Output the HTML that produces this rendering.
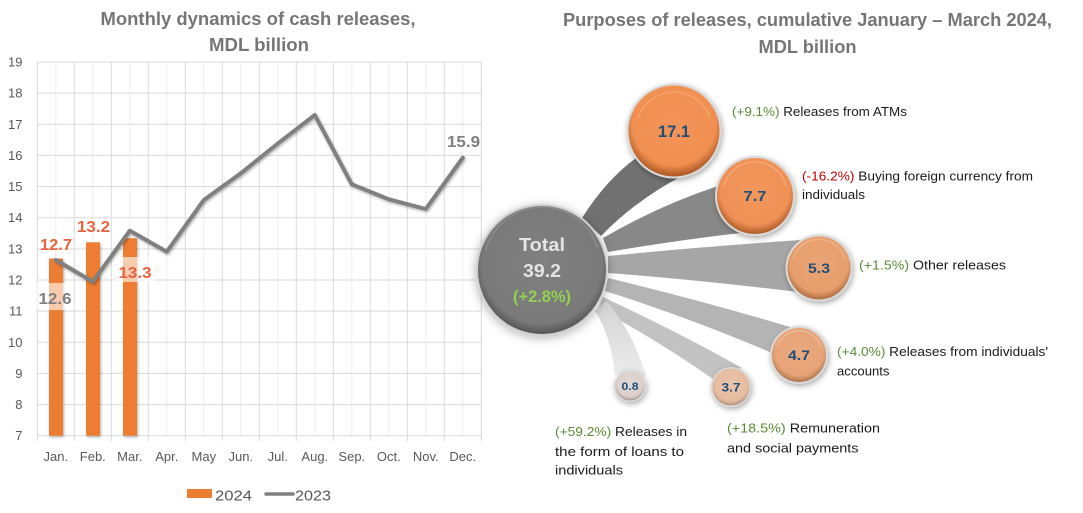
<!DOCTYPE html>
<html>
<head>
<meta charset="utf-8">
<style>
  html,body{margin:0;padding:0;background:#fff;}
  svg{display:block;}
  text{font-family:"Liberation Sans",Arial,sans-serif;}
</style>
</head>
<body>
<svg width="1083" height="513" viewBox="0 0 1083 513" xmlns="http://www.w3.org/2000/svg">
  <defs>
    <filter id="sh" x="-30%" y="-30%" width="160%" height="160%">
      <feDropShadow dx="1" dy="2" stdDeviation="3" flood-color="#000" flood-opacity="0.35"/>
    </filter>
    <filter id="shbig" x="-30%" y="-30%" width="160%" height="160%">
      <feDropShadow dx="0" dy="2" stdDeviation="5" flood-color="#000" flood-opacity="0.3"/>
    </filter>
    <filter id="lsh" x="-10%" y="-10%" width="120%" height="120%">
      <feDropShadow dx="1" dy="1.5" stdDeviation="1.2" flood-color="#000" flood-opacity="0.3"/>
    </filter>
    <radialGradient id="gTot" cx="50%" cy="45%" r="55%">
      <stop offset="0" stop-color="#808080"/>
      <stop offset="0.85" stop-color="#7a7a7a"/>
      <stop offset="1" stop-color="#555"/>
    </radialGradient>
    <radialGradient id="gO1" cx="50%" cy="42%" r="56%">
      <stop offset="0" stop-color="#f4945a"/>
      <stop offset="0.82" stop-color="#f08f50"/>
      <stop offset="1" stop-color="#b45f2a"/>
    </radialGradient>
    <radialGradient id="gO2" cx="50%" cy="42%" r="56%">
      <stop offset="0" stop-color="#f2975c"/>
      <stop offset="0.82" stop-color="#ef9156"/>
      <stop offset="1" stop-color="#b8632e"/>
    </radialGradient>
    <radialGradient id="gO3" cx="50%" cy="42%" r="56%">
      <stop offset="0" stop-color="#eaa474"/>
      <stop offset="0.82" stop-color="#e69e6c"/>
      <stop offset="1" stop-color="#b77548"/>
    </radialGradient>
    <radialGradient id="gO4" cx="50%" cy="42%" r="56%">
      <stop offset="0" stop-color="#eaa97e"/>
      <stop offset="0.82" stop-color="#e6a377"/>
      <stop offset="1" stop-color="#b77d58"/>
    </radialGradient>
    <radialGradient id="gO5" cx="50%" cy="42%" r="56%">
      <stop offset="0" stop-color="#ebc4aa"/>
      <stop offset="0.82" stop-color="#e6bca0"/>
      <stop offset="1" stop-color="#b8967f"/>
    </radialGradient>
    <radialGradient id="gO6" cx="50%" cy="42%" r="56%">
      <stop offset="0" stop-color="#e2d8d4"/>
      <stop offset="0.82" stop-color="#dccfca"/>
      <stop offset="1" stop-color="#a89e9a"/>
    </radialGradient>
    <linearGradient id="b6" x1="0" y1="0" x2="0" y2="1">
      <stop offset="0" stop-color="#d3d3d3"/>
      <stop offset="1" stop-color="#ececec"/>
    </linearGradient>
  </defs>

  <!-- ============ LEFT CHART ============ -->
  <text x="258" y="25" text-anchor="middle" font-size="18" font-weight="bold" fill="#767676" textLength="315" lengthAdjust="spacingAndGlyphs">Monthly dynamics of cash releases,</text>
  <text x="259" y="51" text-anchor="middle" font-size="18" font-weight="bold" fill="#767676" textLength="100" lengthAdjust="spacingAndGlyphs">MDL billion</text>

  <!-- minor vertical grid -->
  <g stroke="#ececec" stroke-width="1">
    <line x1="55.8" y1="62" x2="55.8" y2="435.7"/>
    <line x1="92.8" y1="62" x2="92.8" y2="435.7"/>
    <line x1="129.8" y1="62" x2="129.8" y2="435.7"/>
    <line x1="166.8" y1="62" x2="166.8" y2="435.7"/>
    <line x1="203.8" y1="62" x2="203.8" y2="435.7"/>
    <line x1="240.8" y1="62" x2="240.8" y2="435.7"/>
    <line x1="277.8" y1="62" x2="277.8" y2="435.7"/>
    <line x1="314.8" y1="62" x2="314.8" y2="435.7"/>
    <line x1="351.8" y1="62" x2="351.8" y2="435.7"/>
    <line x1="388.8" y1="62" x2="388.8" y2="435.7"/>
    <line x1="425.8" y1="62" x2="425.8" y2="435.7"/>
    <line x1="462.8" y1="62" x2="462.8" y2="435.7"/>
  </g>
  <!-- major vertical grid + ticks -->
  <g stroke="#d9d9d9" stroke-width="1">
    <line x1="37.3" y1="62" x2="37.3" y2="441"/>
    <line x1="74.3" y1="62" x2="74.3" y2="441"/>
    <line x1="111.3" y1="62" x2="111.3" y2="441"/>
    <line x1="148.3" y1="62" x2="148.3" y2="441"/>
    <line x1="185.3" y1="62" x2="185.3" y2="441"/>
    <line x1="222.3" y1="62" x2="222.3" y2="441"/>
    <line x1="259.3" y1="62" x2="259.3" y2="441"/>
    <line x1="296.3" y1="62" x2="296.3" y2="441"/>
    <line x1="333.3" y1="62" x2="333.3" y2="441"/>
    <line x1="370.3" y1="62" x2="370.3" y2="441"/>
    <line x1="407.3" y1="62" x2="407.3" y2="441"/>
    <line x1="444.3" y1="62" x2="444.3" y2="441"/>
    <line x1="481.3" y1="62" x2="481.3" y2="441"/>
  </g>
  <!-- horizontal grid -->
  <g stroke="#d9d9d9" stroke-width="1">
    <line x1="37.3" y1="62" x2="481.3" y2="62"/>
    <line x1="37.3" y1="93.1" x2="481.3" y2="93.1"/>
    <line x1="37.3" y1="124.3" x2="481.3" y2="124.3"/>
    <line x1="37.3" y1="155.4" x2="481.3" y2="155.4"/>
    <line x1="37.3" y1="186.6" x2="481.3" y2="186.6"/>
    <line x1="37.3" y1="217.7" x2="481.3" y2="217.7"/>
    <line x1="37.3" y1="248.9" x2="481.3" y2="248.9"/>
    <line x1="37.3" y1="280.0" x2="481.3" y2="280.0"/>
    <line x1="37.3" y1="311.1" x2="481.3" y2="311.1"/>
    <line x1="37.3" y1="342.3" x2="481.3" y2="342.3"/>
    <line x1="37.3" y1="373.4" x2="481.3" y2="373.4"/>
    <line x1="37.3" y1="404.6" x2="481.3" y2="404.6"/>
    <line x1="37.3" y1="435.7" x2="481.3" y2="435.7"/>
  </g>

  <!-- y labels -->
  <g font-size="13" fill="#595959" text-anchor="end">
    <text x="22.5" y="66.5">19</text>
    <text x="22.5" y="97.6">18</text>
    <text x="22.5" y="128.8">17</text>
    <text x="22.5" y="159.9">16</text>
    <text x="22.5" y="191.1">15</text>
    <text x="22.5" y="222.2">14</text>
    <text x="22.5" y="253.4">13</text>
    <text x="22.5" y="284.5">12</text>
    <text x="22.5" y="315.6">11</text>
    <text x="22.5" y="346.8">10</text>
    <text x="22.5" y="377.9">9</text>
    <text x="22.5" y="409.1">8</text>
    <text x="22.5" y="440.2">7</text>
  </g>
  <!-- x labels -->
  <g font-size="13" fill="#595959" text-anchor="middle">
    <text x="55.8" y="461">Jan.</text>
    <text x="92.8" y="461">Feb.</text>
    <text x="129.8" y="461">Mar.</text>
    <text x="166.8" y="461">Apr.</text>
    <text x="203.8" y="461">May</text>
    <text x="240.8" y="461">Jun.</text>
    <text x="277.8" y="461">Jul.</text>
    <text x="314.8" y="461">Aug.</text>
    <text x="351.8" y="461">Sep.</text>
    <text x="388.8" y="461">Oct.</text>
    <text x="425.8" y="461">Nov.</text>
    <text x="462.8" y="461">Dec.</text>
  </g>

  <!-- bars 2024 -->
  <g fill="#ed7d31" filter="url(#lsh)">
    <rect x="49" y="258.5" width="14" height="177.2"/>
    <rect x="86" y="242.3" width="14" height="193.4"/>
    <rect x="123" y="238.3" width="14" height="197.4"/>
  </g>

  <!-- line 2023 -->
  <polyline filter="url(#lsh)" fill="none" stroke="#808080" stroke-width="4" stroke-linejoin="round" stroke-linecap="round"
    points="55.8,260 92.8,281.7 129.8,230.7 166.8,251.7 203.8,200 240.8,173.3 277.8,143.5 314.8,115 351.8,184.3 388.8,199.3 425.8,209 462.8,157.7"/>

  <!-- data labels -->
  <g font-size="16" font-weight="bold">
    <text x="56" y="250" text-anchor="middle" fill="#e8623c" textLength="32" lengthAdjust="spacingAndGlyphs">12.7</text>
    <text x="93.5" y="232" text-anchor="middle" fill="#e8623c" textLength="33" lengthAdjust="spacingAndGlyphs">13.2</text>
    <rect x="115" y="257" width="41" height="25" fill="#fff" fill-opacity="0.6"/>
    <text x="135" y="278" text-anchor="middle" fill="#e8623c" textLength="33" lengthAdjust="spacingAndGlyphs">13.3</text>
    <rect x="37" y="283" width="36" height="27" fill="#fff" fill-opacity="0.6"/>
    <text x="55" y="304" text-anchor="middle" fill="#7f7f7f" textLength="33" lengthAdjust="spacingAndGlyphs">12.6</text>
    <text x="463.5" y="147" text-anchor="middle" fill="#808080" textLength="33" lengthAdjust="spacingAndGlyphs">15.9</text>
  </g>

  <!-- legend -->
  <rect x="187" y="489" width="25" height="9" fill="#ed7d31"/>
  <text x="215" y="500.5" font-size="15" fill="#595959" textLength="37" lengthAdjust="spacingAndGlyphs">2024</text>
  <line x1="266" y1="494" x2="293" y2="494" stroke="#808080" stroke-width="3.5" stroke-linecap="round"/>
  <text x="295" y="500.5" font-size="15" fill="#595959" textLength="36" lengthAdjust="spacingAndGlyphs">2023</text>

  <!-- ============ RIGHT CHART ============ -->
  <text x="807.5" y="26" text-anchor="middle" font-size="18" font-weight="bold" fill="#767676" textLength="489" lengthAdjust="spacingAndGlyphs">Purposes of releases, cumulative January – March 2024,</text>
  <text x="807.5" y="53" text-anchor="middle" font-size="18" font-weight="bold" fill="#767676" textLength="98" lengthAdjust="spacingAndGlyphs">MDL billion</text>

  <!-- connectors -->
  <path d="M 582 218 Q 606 180 636 158 L 682 176 Q 636 200 601 236 Z" fill="#717171"/>
  <path d="M 603 238 Q 660 205 718 186 L 740 233 Q 672 241 608 252 Z" fill="#888888"/>
  <path d="M 608 256 Q 700 247 800 240 L 806 293 Q 700 280 608 273 Z" fill="#a6a6a6"/>
  <path d="M 608 278 Q 700 300 790 327 L 772 353 Q 690 318 605 291 Z" fill="#b4b4b4"/>
  <path d="M 603 297 Q 680 333 742 368 L 713 379 Q 660 342 598 308 Z" fill="#c2c2c2"/>
  <path d="M 595 311 Q 611 336 615 375 L 646 376 Q 632 330 606 301 Z" fill="url(#b6)"/>

  <!-- total bubble -->
  <g filter="url(#shbig)">
    <circle cx="542" cy="270" r="66" fill="#d0d0d0"/>
  </g>
  <circle cx="542" cy="270" r="64" fill="url(#gTot)"/>
  <path d="M 486 250 A 58 58 0 0 1 598 250" fill="none" stroke="#9a9a9a" stroke-width="1.5" stroke-opacity="0.5"/>
  <text x="542" y="251" text-anchor="middle" font-size="18" font-weight="bold" fill="#e4e4e4" textLength="46" lengthAdjust="spacingAndGlyphs">Total</text>
  <text x="542" y="277" text-anchor="middle" font-size="18" font-weight="bold" fill="#e4e4e4" textLength="38" lengthAdjust="spacingAndGlyphs">39.2</text>
  <text x="542" y="302" text-anchor="middle" font-size="17" font-weight="bold" fill="#92d050" textLength="58" lengthAdjust="spacingAndGlyphs">(+2.8%)</text>

  <!-- 17.1 -->
  <circle cx="674" cy="131" r="47.5" fill="#d9d9d9" filter="url(#sh)"/>
  <circle cx="674" cy="131" r="45.5" fill="url(#gO1)"/>
  <path d="M 638 118 A 38 38 0 0 1 710 118" fill="none" stroke="#f8b88e" stroke-width="1.5" stroke-opacity="0.5"/>
  <text x="674" y="137" text-anchor="middle" font-size="17" font-weight="bold" fill="#1f4e79" textLength="32" lengthAdjust="spacingAndGlyphs">17.1</text>

  <!-- 7.7 -->
  <circle cx="755" cy="196" r="40" fill="#d9d9d9" filter="url(#sh)"/>
  <circle cx="755" cy="196" r="38" fill="url(#gO2)"/>
  <path d="M 724 186 A 32 32 0 0 1 786 186" fill="none" stroke="#f8bb92" stroke-width="1.5" stroke-opacity="0.5"/>
  <text x="755" y="201" text-anchor="middle" font-size="15" font-weight="bold" fill="#1f4e79" textLength="23" lengthAdjust="spacingAndGlyphs">7.7</text>

  <!-- 5.3 -->
  <circle cx="819" cy="268" r="33.5" fill="#d9d9d9" filter="url(#sh)"/>
  <circle cx="819" cy="268" r="31.5" fill="url(#gO3)"/>
  <path d="M 793 259 A 27 27 0 0 1 845 259" fill="none" stroke="#f3c6a6" stroke-width="1.5" stroke-opacity="0.5"/>
  <text x="819" y="273" text-anchor="middle" font-size="14" font-weight="bold" fill="#1f4e79" textLength="22" lengthAdjust="spacingAndGlyphs">5.3</text>

  <!-- 4.7 -->
  <circle cx="799" cy="355" r="29" fill="#d9d9d9" filter="url(#sh)"/>
  <circle cx="799" cy="355" r="27" fill="url(#gO4)"/>
  <path d="M 777 347 A 23 23 0 0 1 821 347" fill="none" stroke="#f3cbb0" stroke-width="1.5" stroke-opacity="0.5"/>
  <text x="799" y="360" text-anchor="middle" font-size="14" font-weight="bold" fill="#1f4e79" textLength="22" lengthAdjust="spacingAndGlyphs">4.7</text>

  <!-- 3.7 -->
  <circle cx="731" cy="387" r="20" fill="#d9d9d9" filter="url(#sh)"/>
  <circle cx="731" cy="387" r="18.5" fill="url(#gO5)"/>
  <text x="731" y="391.5" text-anchor="middle" font-size="12" font-weight="bold" fill="#1f4e79" textLength="19" lengthAdjust="spacingAndGlyphs">3.7</text>

  <!-- 0.8 -->
  <circle cx="630" cy="386" r="16" fill="#d9d9d9" filter="url(#sh)"/>
  <circle cx="630" cy="386" r="14.5" fill="url(#gO6)"/>
  <text x="630" y="390" text-anchor="middle" font-size="11" font-weight="bold" fill="#1f4e79" textLength="17" lengthAdjust="spacingAndGlyphs">0.8</text>

  <!-- labels -->
  <g font-size="13" fill="#1a1a1a">
    <text x="732" y="116" textLength="175" lengthAdjust="spacingAndGlyphs"><tspan fill="#5a8a35">(+9.1%)</tspan> Releases from ATMs</text>
    <text x="802" y="180.5" textLength="231" lengthAdjust="spacingAndGlyphs"><tspan fill="#c00000">(-16.2%)</tspan> Buying foreign currency from</text>
    <text x="802" y="199" textLength="63" lengthAdjust="spacingAndGlyphs">individuals</text>
    <text x="859" y="269.5" textLength="147" lengthAdjust="spacingAndGlyphs"><tspan fill="#5a8a35">(+1.5%)</tspan> Other releases</text>
    <text x="837" y="356" textLength="211" lengthAdjust="spacingAndGlyphs"><tspan fill="#5a8a35">(+4.0%)</tspan> Releases from individuals'</text>
    <text x="837" y="375.5" textLength="52.5" lengthAdjust="spacingAndGlyphs">accounts</text>
    <text x="555" y="436" textLength="132" lengthAdjust="spacingAndGlyphs"><tspan fill="#5a8a35">(+59.2%)</tspan> Releases in</text>
    <text x="555" y="456" textLength="129" lengthAdjust="spacingAndGlyphs">the form of loans to</text>
    <text x="555" y="474.5" textLength="68" lengthAdjust="spacingAndGlyphs">individuals</text>
    <text x="727" y="432.5" textLength="153" lengthAdjust="spacingAndGlyphs"><tspan fill="#5a8a35">(+18.5%)</tspan> Remuneration</text>
    <text x="727" y="452.5" textLength="131.5" lengthAdjust="spacingAndGlyphs">and social payments</text>
  </g>
</svg>
</body>
</html>
